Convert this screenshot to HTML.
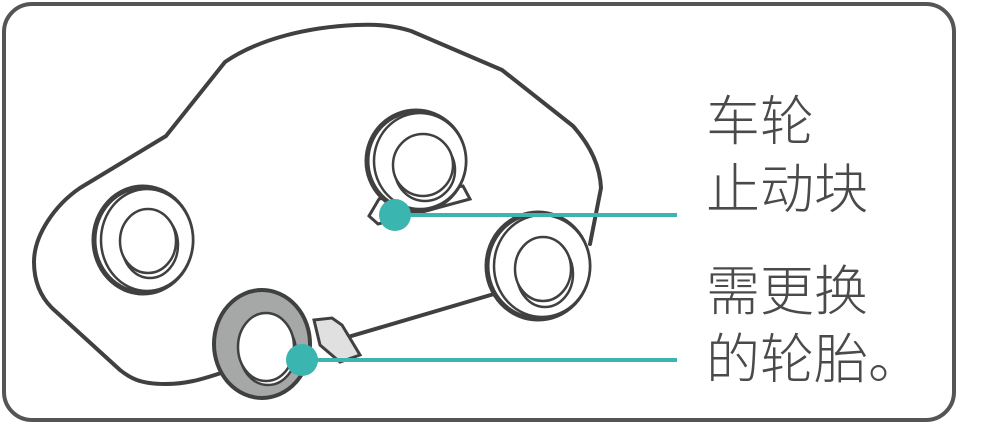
<!DOCTYPE html>
<html><head><meta charset="utf-8"><style>
html,body{margin:0;padding:0;background:#fff;}
svg{display:block;}
text{font-family:"Liberation Sans","Noto Sans CJK SC",sans-serif;font-weight:300;fill:#4a4a4a;font-size:54px;}
</style></head><body>
<svg width="1000" height="435" viewBox="0 0 1000 435">
<rect x="4" y="4" width="950" height="416" rx="28" fill="#fff" stroke="#555" stroke-width="4"/>
<g fill="none" stroke="#404040" stroke-width="4" stroke-linejoin="round" stroke-linecap="round">
<path d="M221,373 C200,380 185,384 165,384 C140,384 130,378 120,370 L52,308 C40,296 34,280 34,262 C34,235 55,205 80,188 L166,136 L225,62 C260,38 310,27 356,25 C380,24 395,26 411,31 L502,70 L573,126 C590,145 600,165 601,188 L590,244"/>
<path d="M494,294 L348,337"/>
</g>
<!-- left back wheel -->
<g fill="#fff" stroke="#404040">
<ellipse cx="143" cy="240" rx="49" ry="53" stroke-width="5"/>
<ellipse cx="147" cy="240" rx="46" ry="51" stroke-width="2.5"/>
<ellipse cx="150" cy="245" rx="28" ry="33" stroke-width="2.5"/>
<ellipse cx="148" cy="241" rx="28" ry="32" stroke-width="2.5"/>
</g>
<!-- top wheel -->
<g fill="#fff" stroke="#404040">
<path d="M379,199 L369,216 L378,224 L470,199 L463,186 Z" stroke-width="3"/>
<ellipse cx="416" cy="161" rx="49" ry="50" stroke-width="5"/>
<ellipse cx="420" cy="161" rx="46" ry="48" stroke-width="2.5"/>
<ellipse cx="425" cy="170" rx="30" ry="31" stroke-width="2.5"/>
<ellipse cx="423" cy="165" rx="30" ry="31" stroke-width="2.5"/>
</g>
<!-- front right wheel -->
<g fill="#fff" stroke="#404040">
<ellipse cx="538" cy="266" rx="51" ry="53" stroke-width="5"/>
<ellipse cx="542" cy="266" rx="48" ry="51" stroke-width="2.5"/>
<ellipse cx="545" cy="274" rx="28" ry="33" stroke-width="2.5"/>
<ellipse cx="543" cy="269" rx="28" ry="32" stroke-width="2.5"/>
</g>
<!-- bottom gray wheel -->
<g stroke="#404040">
<path d="M314,320 L332,318 L342,325 L360,355 L340,362 L320,345 Z" fill="#e0e0e0" stroke-width="3"/>
<ellipse cx="262" cy="344" rx="48" ry="54" fill="#a6a8a7" stroke-width="4"/>
<ellipse cx="268" cy="352" rx="28" ry="33" fill="#fff" stroke-width="2.5"/>
<ellipse cx="266" cy="347" rx="28" ry="34" fill="#fff" stroke-width="2.5"/>
</g>
<!-- teal connectors -->
<g fill="#3ab5b0">
<rect x="395" y="213" width="282" height="4"/>
<circle cx="395" cy="215" r="16"/>
<rect x="302" y="358" width="375" height="4"/>
<circle cx="302" cy="360" r="16"/>
</g>
<text x="706" y="140">车轮</text>
<text x="706" y="208">止动块</text>
<text x="706" y="310">需更换</text>
<text x="706" y="378">的轮胎。</text>
</svg>
</body></html>
